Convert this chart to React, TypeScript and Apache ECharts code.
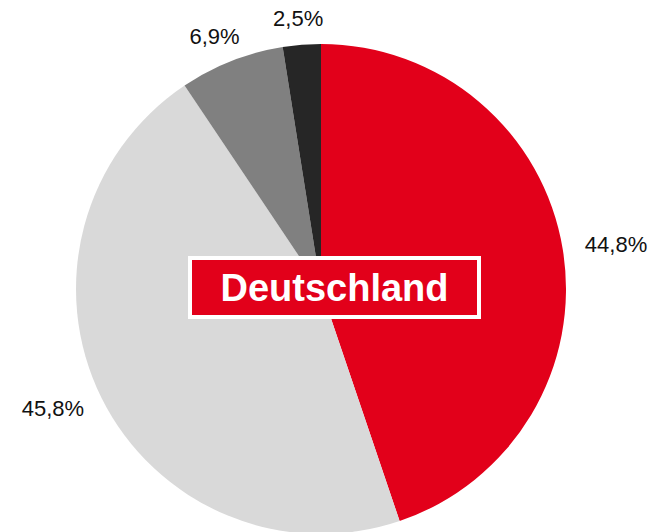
import React, { useEffect, useRef } from "react";
import * as echarts from "echarts";

const categories = ["Rot", "Hellgrau", "Grau", "Dunkel"];
const values = [44.8, 45.8, 6.9, 2.5];
const labels = ["44,8%", "45,8%", "6,9%", "2,5%"];
const colors = ["#E2001A", "#D9D9D9", "#808080", "#262626"];
const centerTitle = "Deutschland";

const CX = 321;
const CY = 289;
const R = 245;
const GAP = 15;

export default function App() {
  const ref = useRef<HTMLDivElement>(null);
  useEffect(() => {
    if (!ref.current) return;
    const chart = echarts.init(ref.current, null, { renderer: "svg" });
    const total = values.reduce((a, b) => a + b, 0);
    const mids: number[] = [];
    let acc = 0;
    values.forEach((v) => {
      mids.push(((acc + v / 2) / total) * Math.PI * 2);
      acc += v;
    });
    chart.setOption({
      animation: false,
      backgroundColor: "#ffffff",
      series: [
        {
          type: "pie",
          center: [CX, CY],
          radius: [0, R],
          startAngle: 90,
          clockwise: true,
          avoidLabelOverlap: false,
          silent: true,
          data: categories.map((c, i) => ({
            name: c,
            value: values[i],
            itemStyle: { color: colors[i] },
          })),
          label: {
            show: true,
            position: "outside",
            formatter: (p: any) => labels[p.dataIndex],
            fontFamily: "'Liberation Sans', Arial, sans-serif",
            fontSize: 22,
            color: "#111111",
          },
          labelLine: { show: false },
          labelLayout: (p: any) => {
            const a = mids[p.dataIndex];
            const sx = Math.sin(a);
            const cy = Math.cos(a);
            const w = p.labelRect.width / 2;
            const h = p.labelRect.height / 2;
            const px = CX + (R + GAP) * sx;
            const py = CY - (R + GAP) * cy;
            return {
              x: px + sx * w * 1.25,
              y: py - cy * h,
              align: "center",
              verticalAlign: "middle",
            };
          },
        },
      ],
      graphic: [
        {
          type: "rect",
          shape: { x: 190, y: 258, width: 289, height: 59 },
          style: { fill: "#E2001A", stroke: "#ffffff", lineWidth: 4 },
          z: 10,
        },
        {
          type: "text",
          x: 334.5,
          y: 288,
          style: {
            text: centerTitle,
            fill: "#ffffff",
            font: "bold 38px 'Liberation Sans', Arial, sans-serif",
            align: "center",
            verticalAlign: "middle",
          },
          z: 11,
        },
      ],
    });
    return () => chart.dispose();
  }, []);
  return (
    <div
      ref={ref}
      style={{ position: "absolute", left: 0, top: 0, width: 658, height: 532 }}
    />
  );
}
